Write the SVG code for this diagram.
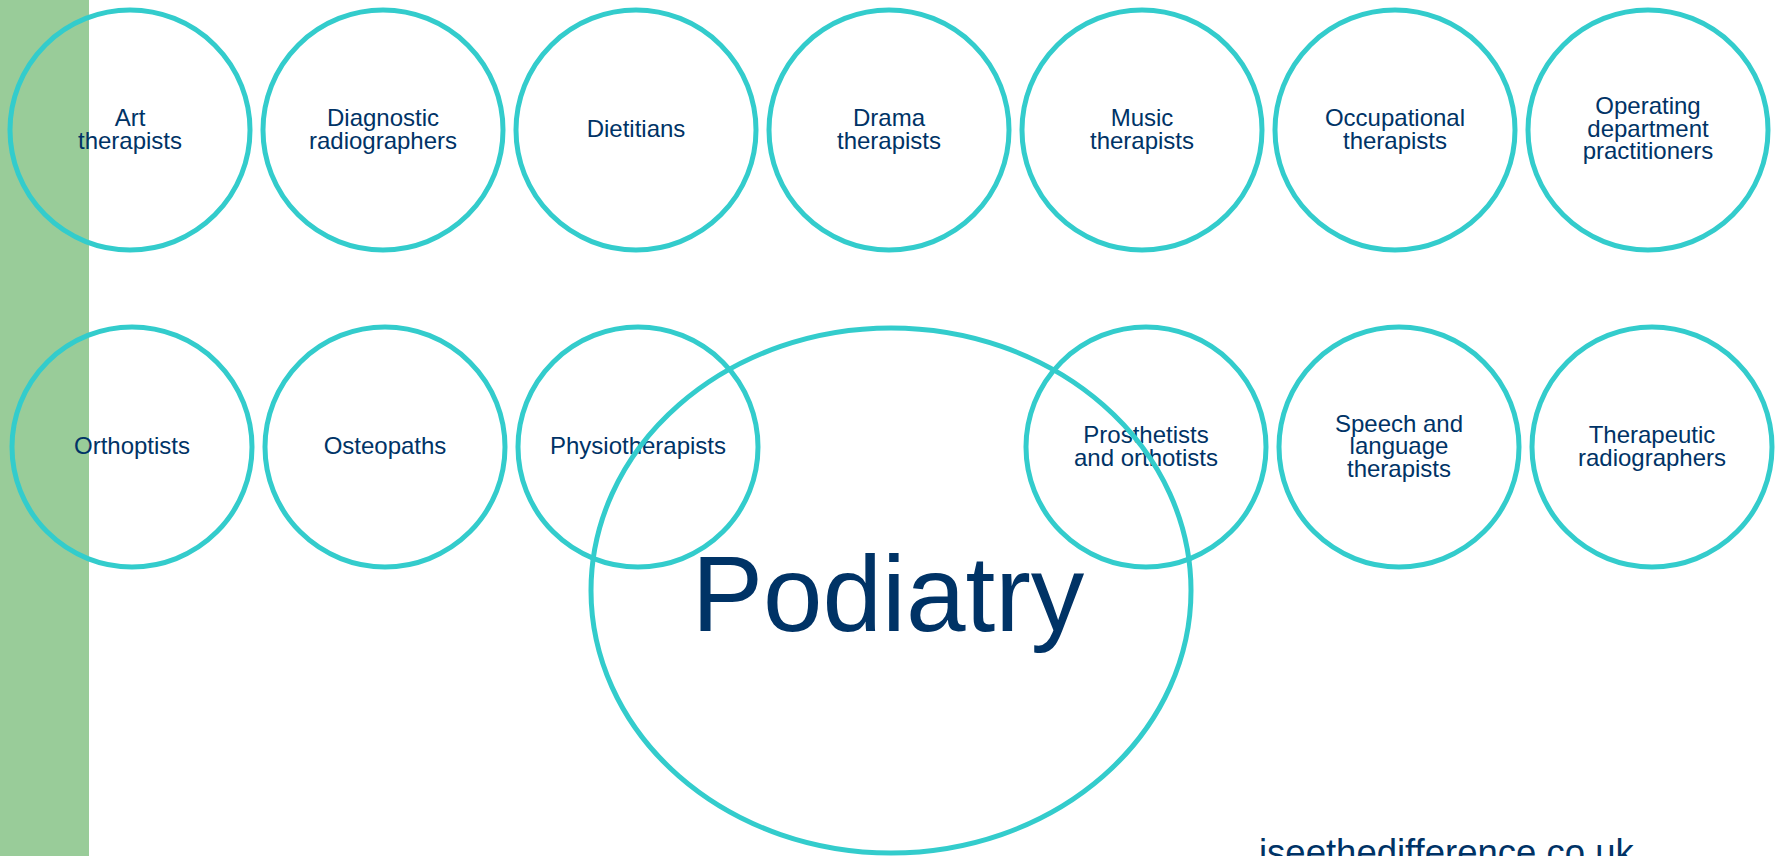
<svg xmlns="http://www.w3.org/2000/svg" width="1781" height="856" viewBox="0 0 1781 856">
<style>
.c{fill:none;stroke:#33CCCC;stroke-width:5}
.t{font-family:"Liberation Sans",Arial,sans-serif;font-size:24px;fill:#003366;text-anchor:middle}
.big{font-family:"Liberation Sans",Arial,sans-serif;font-size:107px;fill:#003366;text-anchor:middle}
.url{font-family:"Liberation Sans",Arial,sans-serif;font-size:36.5px;fill:#003366}
</style>
<rect x="0" y="0" width="1781" height="856" fill="#FFFFFF"/>
<rect id="sidebar" x="0" y="0" width="89" height="856" fill="#99CC99"/>
<g id="connectors"></g>
<g id="art"><circle class="c" cx="130" cy="130" r="120"/><text class="t" x="130" y="126">Art</text><text class="t" x="130" y="148.5">therapists</text></g>
<g id="diagnostic"><circle class="c" cx="383" cy="130" r="120"/><text class="t" x="383" y="126">Diagnostic</text><text class="t" x="383" y="148.5">radiographers</text></g>
<g id="dietitians"><circle class="c" cx="636" cy="130" r="120"/><text class="t" x="636" y="137">Dietitians</text></g>
<g id="drama"><circle class="c" cx="889" cy="130" r="120"/><text class="t" x="889" y="126">Drama</text><text class="t" x="889" y="148.5">therapists</text></g>
<g id="music"><circle class="c" cx="1142" cy="130" r="120"/><text class="t" x="1142" y="126">Music</text><text class="t" x="1142" y="148.5">therapists</text></g>
<g id="occupational"><circle class="c" cx="1395" cy="130" r="120"/><text class="t" x="1395" y="126">Occupational</text><text class="t" x="1395" y="148.5">therapists</text></g>
<g id="operating"><circle class="c" cx="1648" cy="130" r="120"/><text class="t" x="1648" y="114">Operating</text><text class="t" x="1648" y="136.5">department</text><text class="t" x="1648" y="159">practitioners</text></g>
<g id="orthoptists"><circle class="c" cx="132" cy="447" r="120"/><text class="t" x="132" y="454">Orthoptists</text></g>
<g id="osteopaths"><circle class="c" cx="385" cy="447" r="120"/><text class="t" x="385" y="454">Osteopaths</text></g>
<g id="physiotherapists"><circle class="c" cx="638" cy="447" r="120"/><text class="t" x="638" y="454">Physiotherapists</text></g>
<g id="prosthetists"><circle class="c" cx="1146" cy="447" r="120"/><text class="t" x="1146" y="443">Prosthetists</text><text class="t" x="1146" y="465.5">and orthotists</text></g>
<g id="speech"><circle class="c" cx="1399" cy="447" r="120"/><text class="t" x="1399" y="431.5">Speech and</text><text class="t" x="1399" y="454">language</text><text class="t" x="1399" y="476.5">therapists</text></g>
<g id="therapeutic"><circle class="c" cx="1652" cy="447" r="120"/><text class="t" x="1652" y="443">Therapeutic</text><text class="t" x="1652" y="465.5">radiographers</text></g>
<g id="podiatry"><ellipse class="c" cx="891" cy="590.5" rx="300" ry="262.5"/><text class="big" x="888" y="631">Podiatry</text></g>
<text id="url" class="url" x="1259" y="865">iseethedifference.co.uk</text>
</svg>
